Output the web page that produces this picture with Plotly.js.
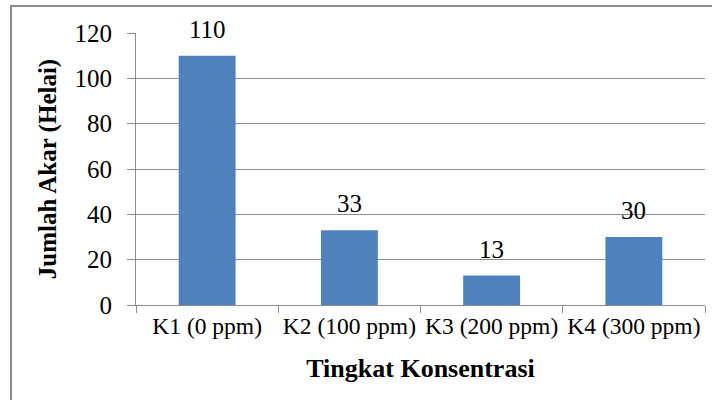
<!DOCTYPE html>
<html>
<head>
<meta charset="utf-8">
<script src="https://cdn.plot.ly/plotly-3.0.1.min.js"></script>
<style>
  html, body { margin: 0; padding: 0; background: #fff; }
  #wrap { position: relative; width: 712px; height: 400px; }
  #chart { width: 712px; height: 400px; }
  #frame { position: absolute; left: 10px; top: 5px; width: 720px; height: 420px;
           border-left: 2px solid #8c8c8c; border-top: 2px solid #8c8c8c; pointer-events: none; }
</style>
</head>
<body>
<div id="wrap">
  <div id="chart"></div>
  <div id="frame"></div>
</div>
<script>
const categories = ["K1 (0 ppm)", "K2 (100 ppm)", "K3 (200 ppm)", "K4 (300 ppm)"];
const values = [110, 33, 13, 30];
const yTicks = [0, 20, 40, 60, 80, 100, 120];
const xTitle = "Tingkat Konsentrasi";
const yTitle = "Jumlah Akar (Helai)";

const FONT = "'Liberation Serif', 'Times New Roman', Times, serif";

const trace = {
  type: "bar",
  x: categories,
  y: values,
  marker: { color: "#4f81bd", line: { width: 0 } },
  hoverinfo: "none"
};

const labels = categories.map((c, i) => ({
  x: c, y: values[i], xref: "x", yref: "y",
  text: String(values[i]), showarrow: false,
  yanchor: "bottom", yshift: 11,
  font: { family: FONT, size: 25, color: "#000" }
}));

const layout = {
  width: 712,
  height: 400,
  margin: { l: 136, r: 7, t: 33, b: 95 },
  paper_bgcolor: "#fff",
  plot_bgcolor: "#fff",
  showlegend: false,
  bargap: 0.6,
  font: { family: FONT, color: "#000" },
  annotations: labels,
  xaxis: {
    type: "category",
    showgrid: false,
    showline: true,
    linecolor: "#8c8c8c",
    linewidth: 1,
    ticks: "outside",
    tickson: "boundaries",
    ticklen: 7,
    tickangle: 0,
    tickcolor: "#8c8c8c",
    tickfont: { family: FONT, size: 23.5, color: "#000" },
    title: { text: xTitle, font: { family: FONT, size: 26, color: "#000", weight: "bold" }, standoff: 20 },
    automargin: false
  },
  yaxis: {
    range: [0, 120],
    tickvals: yTicks,
    ticktext: yTicks.map(String),
    showgrid: true,
    gridcolor: "#8c8c8c",
    gridwidth: 1,
    zeroline: false,
    showline: true,
    linecolor: "#8c8c8c",
    linewidth: 1,
    ticks: "outside",
    ticklen: 8,
    ticklabelstandoff: 10,
    tickcolor: "#8c8c8c",
    tickfont: { family: FONT, size: 25, color: "#000" },
    title: { text: yTitle, font: { family: FONT, size: 25, color: "#000", weight: "bold" }, standoff: 10 },
    automargin: false
  }
};

Plotly.newPlot("chart", [trace], layout, { displayModeBar: false, staticPlot: true });
</script>
</body>
</html>
